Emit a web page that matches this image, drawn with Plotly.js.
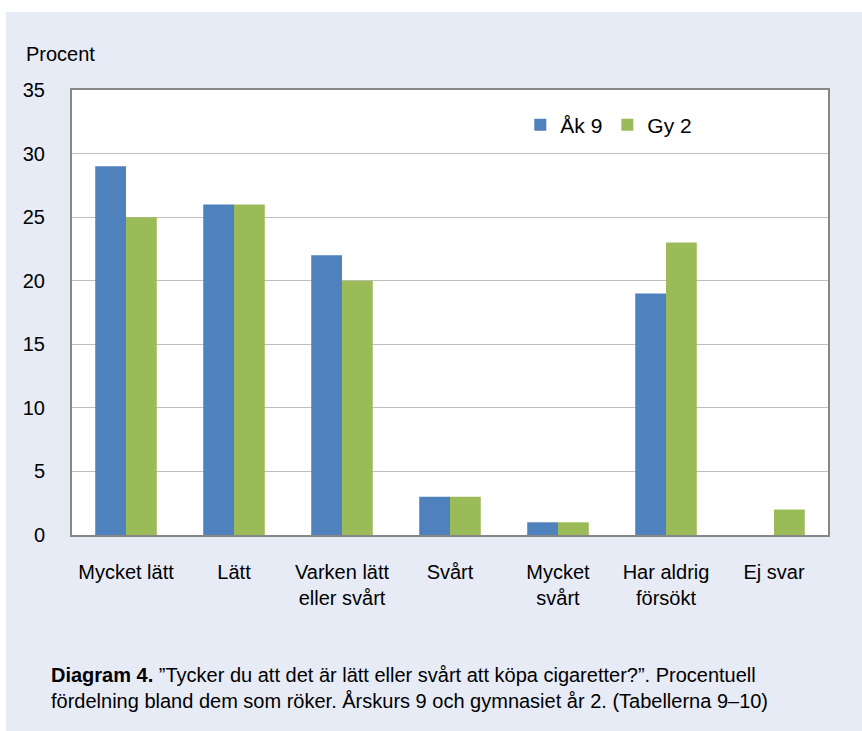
<!DOCTYPE html>
<html>
<head>
<meta charset="utf-8">
<script src="https://cdn.plot.ly/plotly-3.0.1.min.js"></script>
<style>
html,body{margin:0;padding:0;background:#ffffff;}
#wrap{position:absolute;left:6px;top:12px;width:856px;height:719px;background:#E7EBF6;}
#chart{width:856px;height:719px;}
</style>
</head>
<body>
<div id="wrap"><div id="chart"></div></div>
<script>
const categories = ["Mycket lätt", "Lätt", "Varken lätt<br>eller svårt", "Svårt", "Mycket<br>svårt", "Har aldrig<br>försökt", "Ej svar"];
const ak9 = [29, 26, 22, 3, 1, 19, null];
const gy2 = [25, 26, 20, 3, 1, 23, 2];
const yTicks = [0, 5, 10, 15, 20, 25, 30, 35];

const font = "Liberation Sans, Arial, sans-serif";

const traces = [
  {type: "bar", name: "Åk 9", x: categories, y: ak9, marker: {color: "#4F81BD"}},
  {type: "bar", name: "Gy 2", x: categories, y: gy2, marker: {color: "#9BBB59"}}
];

const layout = {
  width: 856, height: 719,
  margin: {l: 66, r: 34, t: 78, b: 196},
  paper_bgcolor: "#E7EBF6",
  plot_bgcolor: "#FFFFFF",
  font: {family: font, size: 20, color: "#000000"},
  barmode: "group",
  bargap: 0.43,
  bargroupgap: 0,
  showlegend: true,
  legend: {orientation: "h", x: 0.593, xanchor: "left", y: 0.921, yanchor: "middle",
           bgcolor: "rgba(0,0,0,0)", font: {family: font, size: 21}, itemwidth: 30, traceorder: "normal"},
  xaxis: {type: "category", showgrid: false, showline: true, linecolor: "#878787", linewidth: 2, mirror: true,
          ticks: "outside", ticklen: 18, tickcolor: "rgba(0,0,0,0)", tickfont: {family: font, size: 20}, fixedrange: true},
  yaxis: {range: [0, 35], tickvals: yTicks, showgrid: true, gridcolor: "#BFBFBF", gridwidth: 1,
          showline: true, linecolor: "#878787", linewidth: 2, mirror: true, zeroline: false,
          ticks: "outside", ticklen: 21, tickcolor: "rgba(0,0,0,0)", tickfont: {family: font, size: 20}, fixedrange: true},
  annotations: [
    {text: "Procent", xref: "paper", yref: "paper", x: -0.064, y: 1.081, xanchor: "left", yanchor: "middle",
     showarrow: false, font: {family: font, size: 20}},
    {text: "<b>Diagram 4.</b> ”Tycker du att det är lätt eller svårt att köpa cigaretter?”. Procentuell<br>fördelning bland dem som röker. Årskurs 9 och gymnasiet år 2. (Tabellerna 9–10)",
     xref: "paper", yref: "paper", x: -0.031, y: -0.285, xanchor: "left", yanchor: "top", align: "left",
     showarrow: false, font: {family: font, size: 20}}
  ]
};

Plotly.newPlot("chart", traces, layout, {displayModeBar: false, staticPlot: true});
</script>
</body>
</html>
